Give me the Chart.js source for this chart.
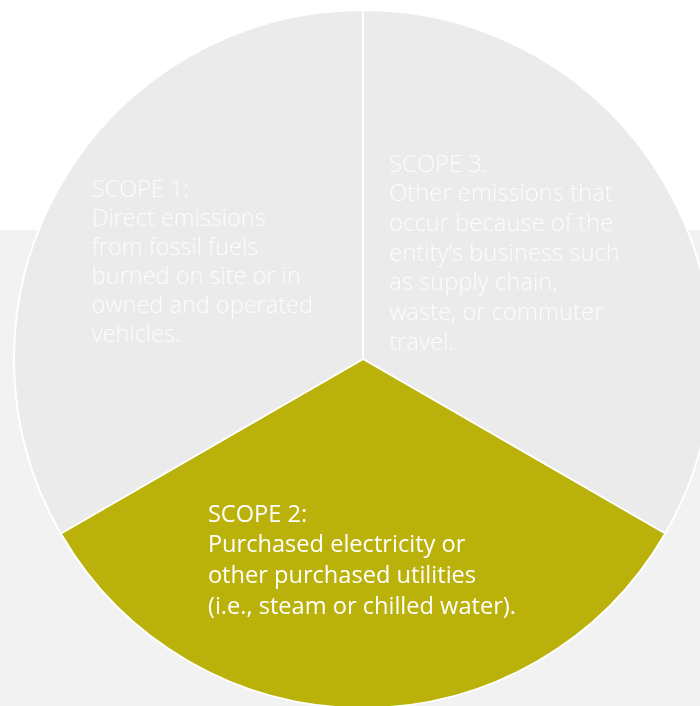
<!DOCTYPE html>
<html>
<head>
<meta charset="utf-8">
<script src="https://cdn.jsdelivr.net/npm/chart.js@4/dist/chart.umd.min.js"></script>
<style>
  html, body { margin: 0; padding: 0; width: 700px; height: 706px; overflow: hidden; background: #ffffff; position: relative; }
  #band { position: absolute; left: 0; top: 230px; width: 700px; height: 476px; background: #f2f2f2; }
  #wrap { position: absolute; left: 13px; top: 9px; width: 700px; height: 700px; }
</style>
</head>
<body>
<div id="band"></div>
<div id="wrap"><canvas id="c" width="700" height="700"></canvas></div>
<script>
// Three emission scopes, drawn clockwise from 12 o'clock
const scopes = ['SCOPE 3:', 'SCOPE 2:', 'SCOPE 1:'];
const shares = [1, 1, 1];
const descriptions = [
  ['Other emissions that', 'occur because of the', 'entity\u2019s business such', 'as supply chain,', 'waste, or commuter', 'travel.'],
  ['Purchased electricity or', 'other purchased utilities', '(i.e., steam or chilled water).'],
  ['Direct emissions', 'from fossil fuels', 'burned on site or in', 'owned and operated', 'vehicles.']
];

const sliceColors = ['#ebebeb', '#bab20a', '#ebebeb'];

// Where each text block sits inside its slice (fraction of radius, angle tweak in degrees)
const labelStyle = [
  { font: '300 23.8px "Open Sans"', color: '#fcfcfc', lineHeight: 29.7, radial: 0.505, shift: -6.6 },
  { font: '400 23.6px "Open Sans"', color: '#ffffff', lineHeight: 30.7, radial: 0.579, shift: 0.3 },
  { font: '300 23.5px "Open Sans"', color: '#fcfcfc', lineHeight: 29.0, radial: 0.537, shift: 1.0 }
];

const sliceText = {
  id: 'sliceText',
  afterDatasetsDraw(chart) {
    const ctx = chart.ctx;
    const meta = chart.getDatasetMeta(0);
    meta.data.forEach((arc, i) => {
      const p = arc.getProps(['x', 'y', 'startAngle', 'endAngle', 'outerRadius'], true);
      const st = labelStyle[i];
      const mid = (p.startAngle + p.endAngle) / 2 + st.shift * Math.PI / 180;
      const cx = p.x + Math.cos(mid) * p.outerRadius * st.radial;
      const cy = p.y + Math.sin(mid) * p.outerRadius * st.radial;
      const lines = [scopes[i]].concat(descriptions[i]);
      ctx.save();
      ctx.font = st.font;
      ctx.fillStyle = st.color;
      ctx.textAlign = 'left';
      ctx.textBaseline = 'middle';
      const w = Math.max(...lines.map(l => ctx.measureText(l).width));
      const h = (lines.length - 1) * st.lineHeight;
      const left = cx - w / 2;
      const top = cy - h / 2;
      lines.forEach((l, k) => ctx.fillText(l, left, top + k * st.lineHeight));
      ctx.restore();
    });
  }
};

new Chart(document.getElementById('c'), {
  type: 'pie',
  data: {
    labels: scopes,
    datasets: [{
      data: shares,
      backgroundColor: sliceColors,
      borderColor: '#ffffff',
      borderWidth: 2,
      hoverOffset: 0
    }]
  },
  options: {
    responsive: false,
    animation: false,
    layout: { padding: 0 },
    plugins: { legend: { display: false }, tooltip: { enabled: false } }
  },
  plugins: [sliceText]
});
</script>
</body>
</html>
